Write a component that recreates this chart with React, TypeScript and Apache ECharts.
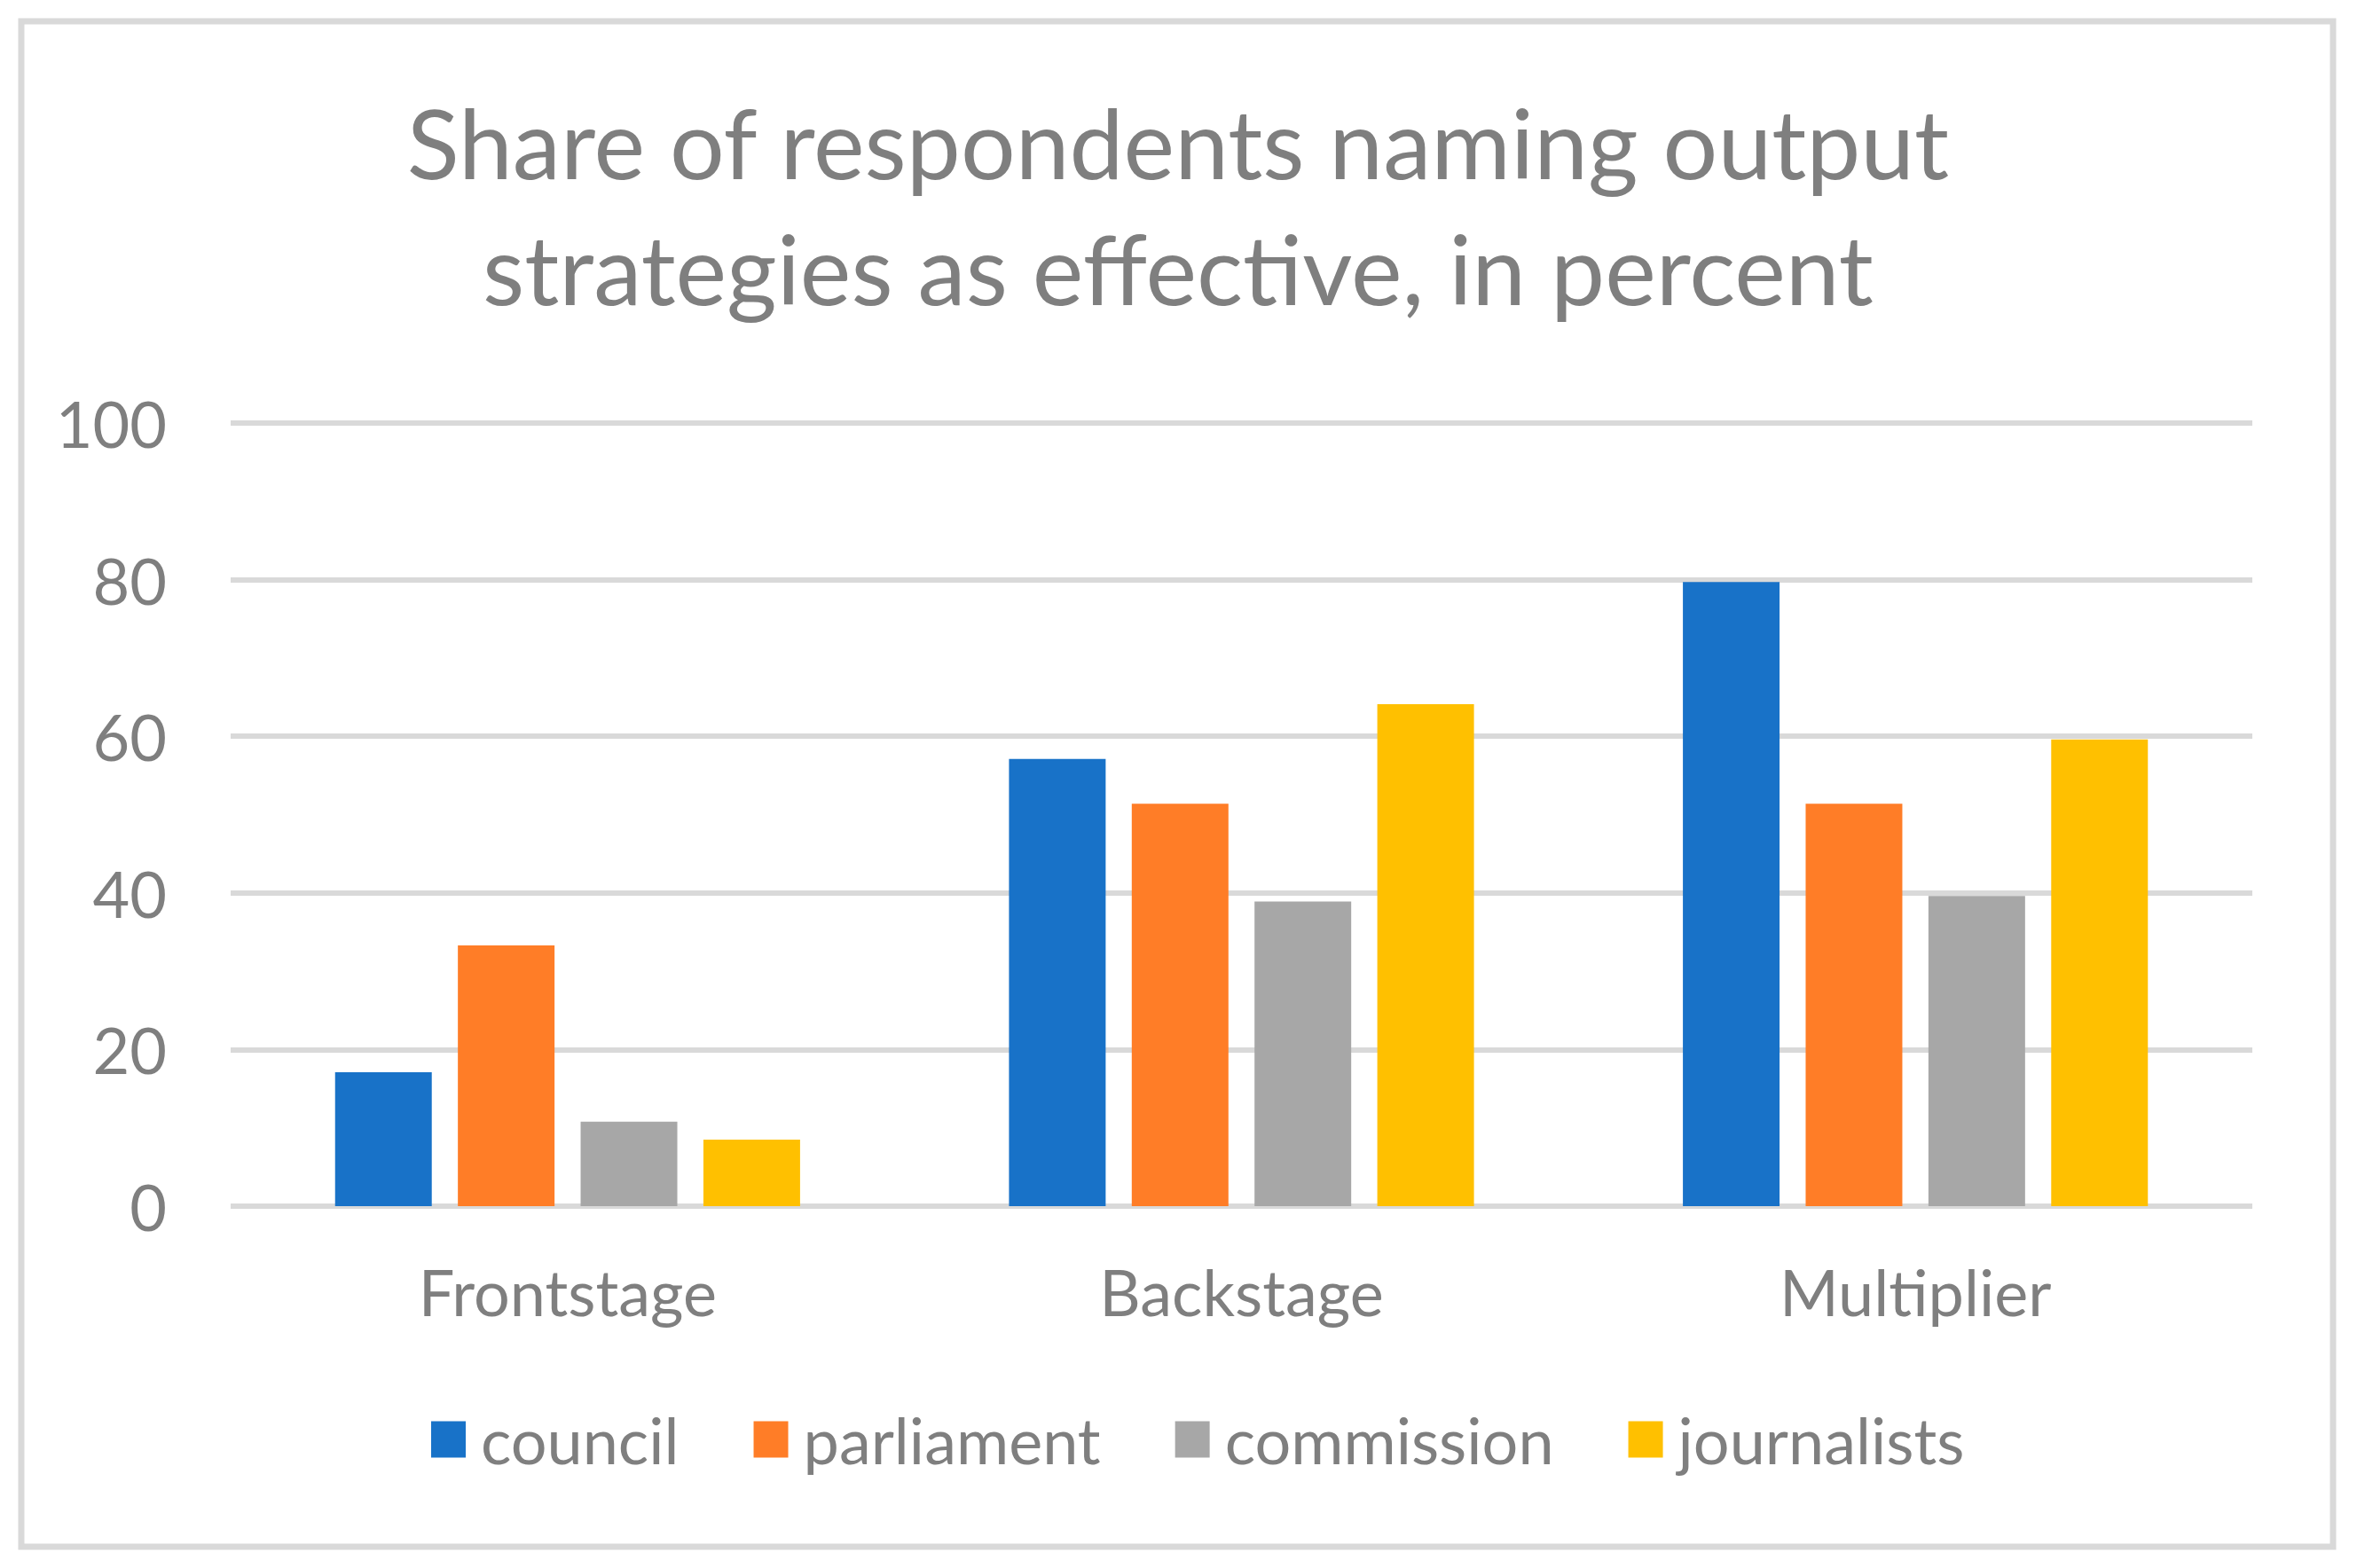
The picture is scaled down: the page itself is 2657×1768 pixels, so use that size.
import React, { useEffect, useRef } from "react";
import * as echarts from "echarts";

const categories = ["Frontstage", "Backstage", "Multiplier"];
const seriesNames = ["council", "parliament", "commission", "journalists"];
const council = [17.1, 57.1, 79.7];
const parliament = [33.3, 51.4, 51.4];
const commission = [10.8, 38.9, 39.6];
const journalists = [8.5, 64.1, 59.6];
const colors = ["#1872c8", "#ff7d27", "#a7a7a7", "#ffc000"];
const titleLines = ["Share of respondents naming output", "strategies as effective, in percent"];

const FONT = "Lato, 'Open Sans', sans-serif";
const TXT = "#7f7f7f";

export default function App() {
  const ref = useRef<HTMLDivElement>(null);
  useEffect(() => {
    if (!ref.current) return;
    const chart = echarts.init(ref.current, undefined, { renderer: "svg" });
    const values = [council, parliament, commission, journalists];
    chart.setOption({
      animation: false,
      backgroundColor: "#ffffff",
      legend: {
        data: seriesNames,
        top: 1582,
        left: 481,
        itemWidth: 39,
        itemHeight: 41,
        itemGap: 84,
        icon: "rect",
        textStyle: { fontFamily: FONT, fontSize: 72, color: TXT, padding: [0, 0, 0, 12] },
      },
      grid: { left: 260, right: 118, top: 477, bottom: 408, containLabel: false },
      xAxis: {
        type: "category",
        data: categories,
        axisLine: { show: false },
        axisTick: { show: false },
        axisLabel: { fontFamily: FONT, fontSize: 72, color: TXT, margin: 60 },
      },
      yAxis: {
        type: "value",
        min: 0,
        max: 100,
        interval: 20,
        axisLine: { show: false },
        axisTick: { show: false },
        axisLabel: { fontFamily: FONT, fontSize: 72, color: TXT, margin: 72 },
        splitLine: { lineStyle: { color: "#d9d9d9", width: 6 } },
      },
      graphic: [
        {
          type: "rect",
          shape: { x: 24, y: 24, width: 2606, height: 1720 },
          style: { fill: "none", stroke: "#d9d9d9", lineWidth: 7 },
          silent: true,
        },
        ...titleLines.map((t, i) => ({
          type: "text",
          x: 1328,
          y: 214 + i * 142,
          silent: true,
          style: {
            text: t,
            fontFamily: FONT,
            fontSize: 109,
            fill: TXT,
            align: "center",
            verticalAlign: "bottom",
          },
        })),
      ],
      series: seriesNames.map((name, i) => ({
        name,
        type: "bar",
        data: values[i],
        itemStyle: { color: colors[i] },
        barGap: "27%",
        barCategoryGap: "31%",
      })),
    });
    return () => chart.dispose();
  }, []);
  return (
    <div
      ref={ref}
      style={{ position: "absolute", left: 0, top: 0, width: 2657, height: 1768 }}
    />
  );
}
